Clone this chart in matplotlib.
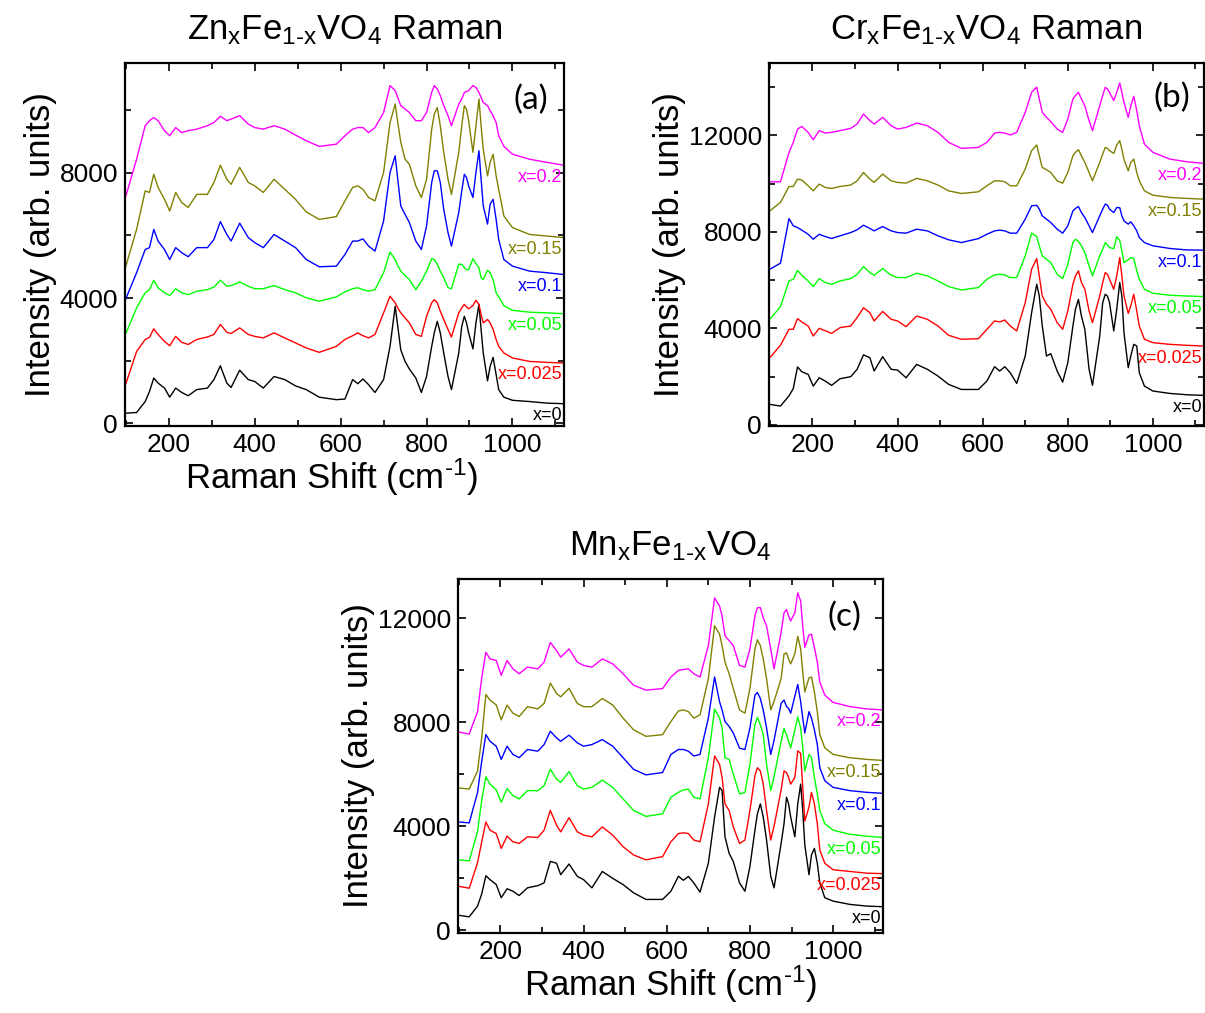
import matplotlib
matplotlib.use("Agg")
import matplotlib.pyplot as plt
from matplotlib.ticker import MultipleLocator

plt.rcParams['font.family'] = ['Liberation Sans', 'DejaVu Sans']
plt.rcParams['mathtext.fontset'] = 'custom'
plt.rcParams['mathtext.rm'] = 'Liberation Sans'
plt.rcParams['mathtext.it'] = 'Liberation Sans'
plt.rcParams['mathtext.default'] = 'regular'

shift = [100, 125, 145, 155, 165, 175, 190, 202, 216, 230, 245, 265, 290, 305, 320,
         335, 345, 365, 385, 400, 420, 445, 470, 495, 520, 550, 590, 610, 628, 640,
         652, 665, 680,
         700, 715, 727, 733, 740, 750, 760, 775, 788, 800, 812, 818, 825, 832, 840,
         850, 858, 875, 882, 888, 893, 898, 908, 915, 922, 927, 932, 942, 948, 955,
         962, 968, 980, 1000, 1040, 1080, 1120]

compositions = ["x=0", "x=0.025", "x=0.05", "x=0.1", "x=0.15", "x=0.2"]
line_colors = ["#000000", "#ff0000", "#00ff00", "#0000ff", "#808000", "#ff00ff"]

# (a) ZnxFe1-xVO4
zn_x0 = [330, 350, 700, 1020, 1450, 1290, 1130, 840, 1130, 990, 885, 1080, 1130, 1400, 1840,
         1290, 1150, 1700, 1400, 1340, 1130, 1500, 1400, 1200, 1080, 840, 760, 780, 1400, 1270,
         1420, 1240, 990,
         1400, 2460, 3740, 3100, 2350, 1980, 1740, 1450, 990, 1500, 2460, 2890, 3260, 2890, 2250,
         1500, 1080, 2250, 3100, 3420, 3210, 2890, 2380, 3210, 3800, 3000, 2250, 1360, 1820, 2110,
         1560, 1080, 840, 740, 700, 650, 630]
zn_x025 = [1270, 2300, 2680, 2750, 3020, 2840, 2620, 2480, 2780, 2590, 2520, 2680, 2760, 2840, 3160,
           2910, 2870, 3050, 2840, 2780, 2730, 2890, 2730, 2570, 2410, 2270, 2460, 2680, 2800, 2890,
           2800, 2730, 2840,
           3530, 4060, 3850, 3690, 3530, 3370, 3210, 2840, 2780, 3420, 3850, 3950, 3850, 3580, 3320,
           3000, 2760, 3530, 3690, 3800, 3720, 3660, 3760, 3930, 3800, 3475, 3210, 3320, 3210, 3000,
           2680, 2460, 2250, 2090, 1980, 1950, 1930]
zn_x05 = [2870, 3690, 4170, 4270, 4570, 4330, 4170, 4080, 4300, 4170, 4110, 4220, 4270, 4350, 4570,
          4380, 4400, 4510, 4380, 4300, 4300, 4400, 4270, 4170, 4010, 3900, 4040, 4200, 4300, 4330,
          4270, 4220, 4270,
          4810, 5470, 5230, 5040, 4860, 4720, 4590, 4270, 4540, 4860, 5260, 5230, 5080, 4860, 4650,
          4330, 4300, 5080, 5080, 4970, 4910, 4910, 5260, 5100, 4970, 4650, 4590, 4890, 4810, 4590,
          4170, 4040, 3760, 3610, 3550, 3530, 3500]
zn_x1 = [3980, 4810, 5550, 5610, 6190, 5820, 5550, 5230, 5610, 5450, 5320, 5610, 5610, 5870, 6440,
         6030, 5820, 6390, 5930, 5770, 5610, 6030, 5820, 5610, 5230, 5000, 5020, 5390, 5820, 5820,
         5890, 5660, 5500,
         6460, 8010, 8540, 7790, 6940, 6670, 6410, 5820, 5550, 6300, 7690, 8060, 8060, 7690, 6830,
         6090, 5660, 6730, 7420, 7950, 7850, 7580, 7210, 8010, 8700, 7790, 6940, 6360, 7000, 7150,
         6510, 5870, 5230, 5020, 4860, 4810, 4750]
zn_x15 = [5020, 6190, 7420, 7370, 7950, 7530, 7150, 6780, 7370, 7050, 6890, 7310, 7310, 7690, 8240,
          7790, 7630, 8170, 7690, 7580, 7370, 7790, 7470, 7150, 6750, 6510, 6600, 7100, 7530, 7580,
          7470, 7210, 7100,
          8010, 9600, 10190, 9600, 8970, 8430, 8270, 7580, 7210, 7790, 9390, 9870, 10080, 9500, 8650,
          7790, 7310, 8650, 9500, 10140, 10030, 9660, 8650, 9500, 10350, 9500, 8750, 7900, 8330, 8590,
          7900, 7470, 6620, 6250, 6030, 5980, 5930]
zn_x2 = [7260, 8430, 9500, 9660, 9760, 9660, 9340, 9180, 9440, 9280, 9340, 9390, 9500, 9600, 9800,
         9660, 9710, 9820, 9550, 9440, 9390, 9500, 9390, 9200, 9020, 8840, 8910, 9180, 9390, 9440,
         9440, 9280, 9440,
         9920, 10780, 10620, 10400, 10140, 10030, 9920, 9660, 9660, 9920, 10560, 10780, 10670, 10460, 10140,
         9820, 9500, 10190, 10350, 10560, 10590, 10620, 10780, 10720, 10560, 10400, 10240, 10140, 9980, 9820,
         9600, 9180, 8840, 8590, 8430, 8330, 8240]

# (b) CrxFe1-xVO4
cr_x0 = [845, 775, 1200, 1500, 2400, 2200, 2090, 1605, 1950, 1815, 1635, 1910, 1995, 2300, 2900,
         2780, 2230, 2825, 2300, 2270, 1950, 2505, 2300, 2020, 1675, 1465, 1465, 1815, 2410, 2230,
         2410, 2150, 1715,
         2850, 4650, 5830, 5340, 4100, 2850, 2950, 2230, 1770, 2575, 4095, 4790, 5200, 4510, 3960,
         2300, 1635, 3680, 5065, 5410, 5340, 5065, 3890, 4790, 5900, 5340, 3820, 2365, 2850, 3335,
         3265, 2160, 1605, 1400, 1300, 1245, 1220]
cr_x025 = [2780, 3300, 3960, 3960, 4400, 4265, 4095, 3680, 4000, 3900, 3790, 4030, 4095, 4445, 4850,
           4650, 4305, 4700, 4375, 4305, 4070, 4510, 4375, 4095, 3710, 3545, 3570, 3960, 4305, 4265,
           4345, 4095, 3890,
           5065, 6450, 6890, 6170, 5340, 5000, 4790, 4235, 3960, 4720, 5825, 6170, 6380, 5900, 5620,
           4720, 4235, 5340, 5900, 6310, 6240, 6035, 5620, 6170, 6935, 6170, 5340, 4620, 4930, 5410,
           4720, 4095, 3545, 3405, 3335, 3295, 3265]
cr_x05 = [4375, 4900, 5965, 6035, 6400, 6200, 5965, 5730, 6060, 5895, 5825, 5965, 6060, 6240, 6560,
          6310, 6200, 6475, 6200, 6105, 6105, 6285, 6175, 5965, 5730, 5590, 5690, 6035, 6215, 6240,
          6215, 6105, 6105,
          7005, 7950, 7800, 7420, 7005, 6865, 6725, 6240, 6060, 6655, 7555, 7695, 7600, 7420, 7140,
          6590, 6175, 7005, 7280, 7555, 7450, 7350, 7300, 7800, 7650, 7210, 6725, 6850, 6930, 6900,
          6380, 6035, 5620, 5455, 5370, 5340, 5315]
cr_x1 = [6450, 6700, 8550, 8250, 8180, 8070, 7900, 7695, 7900, 7805, 7725, 7835, 7970, 8085, 8275,
         8140, 8040, 8220, 8040, 7970, 7945, 8110, 8040, 7835, 7670, 7555, 7720, 7900, 8040, 8070,
         8040, 7945, 7945,
         8525, 9080, 9100, 8940, 8665, 8525, 8385, 8110, 7945, 8250, 8870, 8970, 9050, 8800, 8595,
         8250, 7970, 8665, 8940, 9150, 9110, 8940, 8800, 9010, 9000, 8665, 8455, 8320, 8415, 8250,
         8040, 7765, 7555, 7420, 7310, 7250, 7240]
cr_x15 = [8870, 9220, 9880, 9880, 10185, 10150, 9910, 9700, 9980, 9840, 9800, 9880, 9940, 10115, 10460,
          10185, 10050, 10395, 10115, 10050, 10020, 10215, 10115, 9940, 9700, 9590, 9660, 9910, 10115, 10115,
          10075, 9910, 9910,
          10600, 11365, 11600, 11155, 10670, 10575, 10460, 10115, 10020, 10460, 11155, 11295, 11405, 11155, 10880,
          10460, 10115, 10880, 11225, 11500, 11460, 11365, 11250, 11600, 11780, 11430, 11000, 10530, 10880, 11015,
          10460, 10115, 9700, 9520, 9425, 9385, 9355]
cr_x2 = [10075, 10075, 11295, 11710, 12260, 12370, 12125, 11820, 12195, 12095, 12125, 12195, 12290, 12470, 12885,
         12610, 12470, 12745, 12400, 12260, 12330, 12510, 12400, 12125, 11710, 11460, 11500, 11710, 12095, 12125,
         12095, 12015, 12125,
         12955, 13785, 14000, 13510, 12955, 12745, 12570, 12260, 12125, 12680, 13510, 13650, 13785, 13510, 13230,
         12610, 12195, 13230, 13650, 13990, 13920, 13785, 13440, 13785, 14170, 13785, 13370, 12745, 13230, 13620,
         13020, 12400, 11640, 11295, 11015, 10905, 10840]

# (c) MnxFe1-xVO4
mn_x0 = [580, 520, 935, 1400, 2100, 1950, 1760, 1255, 1600, 1505, 1340, 1635, 1720, 1825, 2650,
         2580, 2140, 2550, 2075, 1950, 1635, 2265, 2000, 1760, 1445, 1190, 1190, 1505, 2080, 1925,
         2075, 1825, 1470,
         2580, 4355, 5500, 5370, 3595, 2960, 2645, 1825, 1505, 2455, 3850, 4480, 4860, 4355, 3470,
         2080, 1635, 3340, 4100, 5115, 4860, 4355, 3595, 4860, 5620, 4610, 3280, 2140, 2900, 3150,
         2580, 1825, 1255, 1125, 1000, 935, 910]
mn_x025 = [1695, 1620, 2600, 3400, 4165, 3850, 3720, 3150, 3620, 3405, 3340, 3595, 3570, 3850, 4610,
           4040, 3785, 4330, 3785, 3660, 3595, 3975, 3660, 3215, 2900, 2710, 2835, 3405, 3720, 3750,
           3720, 3470, 3405,
           4860, 6700, 6380, 5875, 4860, 4610, 3975, 3340, 3470, 4610, 5940, 6250, 6125, 5620, 4610,
           3470, 4000, 5400, 6125, 6060, 5875, 5620, 5875, 6900, 6800, 5490, 4200, 4735, 5300, 4860,
           4100, 3090, 2580, 2330, 2265, 2200, 2180]
mn_x05 = [2710, 2670, 3800, 5000, 5900, 5620, 5395, 4925, 5450, 5180, 5050, 5370, 5370, 5560, 6190,
          5810, 5685, 6100, 5560, 5430, 5495, 5775, 5495, 5050, 4610, 4380, 4480, 5115, 5305, 5400,
          5430, 5115, 5050,
          6635, 8500, 8155, 7775, 6635, 6570, 6000, 5240, 5300, 6380, 7900, 8180, 7900, 7520, 6380,
          5370, 5900, 7265, 7750, 7520, 7265, 7015, 7700, 8200, 7775, 7015, 6125, 6760, 6635, 5875,
          5240, 4610, 4100, 3850, 3695, 3620, 3570]
mn_x1 = [4165, 4130, 5300, 6500, 7520, 7265, 7075, 6570, 7075, 6760, 6635, 6950, 6885, 7140, 7650,
         7395, 7265, 7500, 7205, 7075, 7140, 7330, 7075, 6635, 6190, 5975, 6065, 6760, 6950, 6950,
         6885, 6700, 6760,
         8155, 9735, 8785, 8470, 8025, 7835, 7585, 7000, 6950, 7775, 9040, 9140, 8910, 8470, 7775,
         6760, 7300, 8720, 8850, 8600, 8530, 8345, 9000, 9450, 8785, 8155, 7585, 8405, 8155, 7710,
         7140, 6255, 5750, 5495, 5370, 5305, 5265]
mn_x15 = [5470, 5430, 6125, 7400, 9065, 8850, 8660, 8090, 8660, 8345, 8215, 8595, 8510, 8720, 9500,
          9100, 8975, 9300, 8720, 8595, 8595, 8910, 8660, 8155, 7710, 7455, 7520, 8025, 8430, 8470,
          8405, 8155, 8280,
          9670, 11700, 11380, 10940, 10305, 9860, 9290, 8470, 8345, 9290, 10810, 11165, 10940, 10430, 9670,
          8470, 8800, 9670, 10620, 10660, 10430, 10240, 10620, 11300, 10810, 9925, 9165, 9700, 9735, 9165,
          8405, 7520, 7015, 6760, 6635, 6570, 6530]
mn_x2 = [7620, 7545, 8405, 9700, 10685, 10430, 10370, 9800, 10370, 10050, 9860, 10115, 10050, 10305, 11065,
         10750, 10495, 10810, 10305, 10180, 10115, 10430, 10240, 9860, 9420, 9230, 9290, 9735, 9990, 10025,
         10050, 9860, 9735,
         10940, 12775, 12460, 12080, 11320, 11130, 10940, 10180, 10115, 10810, 12080, 12395, 12400, 12015, 11700,
         10810, 10050, 11445, 12200, 12330, 12080, 11890, 12200, 12965, 12650, 11700, 10875, 11350, 11380, 10875,
         10305, 9545, 9040, 8760, 8600, 8510, 8470]

W, H = 1205, 1013


def px_axes(left, top, right, bottom):
    return [left / W, 1 - bottom / H, (right - left) / W, (bottom - top) / H]


def draw_panel(ax, spectra, ylim, yticks, tag, tag_pos, title, xlabel_x=None):
    for spec, comp, col in zip(spectra, compositions, line_colors):
        ax.plot(shift, spec, color=col, lw=1.0)
        ax.annotate(comp, xy=(1, spec[-1]), xycoords=('axes fraction', 'data'),
                    xytext=(-2, -12), textcoords='offset pixels',
                    ha='right', va='center', color=col, fontsize=13)
    ax.set_xlim(98, 1120)
    ax.set_ylim(*ylim)
    ax.set_yticks(yticks)
    ax.xaxis.set_major_locator(MultipleLocator(200))
    ax.xaxis.set_minor_locator(MultipleLocator(100))
    ax.yaxis.set_minor_locator(MultipleLocator(2000))
    ax.tick_params(which='both', direction='in', top=True, right=True, labelsize=19, width=1.2)
    ax.tick_params(which='major', length=6, pad=5)
    ax.tick_params(which='minor', length=4)
    for sp in ax.spines.values():
        sp.set_linewidth(1.6)
    ax.set_ylabel('Intensity (arb. units)', fontsize=25, labelpad=2)
    if xlabel_x is not None:
        ax.set_xlabel('Raman Shift (cm$^{\u20101}$)', fontsize=25, labelpad=0)
        ax.xaxis.label.set_x(xlabel_x)
    ax.set_title(title, fontsize=25, pad=17)
    ax.text(tag_pos[0], tag_pos[1], tag, transform=ax.transAxes, fontsize=24,
            family=['Lato', 'DejaVu Sans'], ha='center', va='center')


fig = plt.figure(figsize=(W / 100, H / 100), dpi=100)

ax_a = fig.add_axes(px_axes(125, 63, 564, 426))
draw_panel(ax_a, [zn_x0, zn_x025, zn_x05, zn_x1, zn_x15, zn_x2], (-80, 11500),
           [0, 4000, 8000], '(a)', (0.925, 0.898),
           'Zn$_x$Fe$_{1\u2010x}$VO$_4$ Raman', xlabel_x=0.47)

ax_b = fig.add_axes(px_axes(769, 63, 1204, 426))
draw_panel(ax_b, [cr_x0, cr_x025, cr_x05, cr_x1, cr_x15, cr_x2], (-50, 15000),
           [0, 4000, 8000, 12000], '(b)', (0.926, 0.904),
           'Cr$_x$Fe$_{1\u2010x}$VO$_4$ Raman')

ax_c = fig.add_axes(px_axes(458, 579, 883, 933))
draw_panel(ax_c, [mn_x0, mn_x025, mn_x05, mn_x1, mn_x15, mn_x2], (-100, 13500),
           [0, 4000, 8000, 12000], '(c)', (0.91, 0.893),
           'Mn$_x$Fe$_{1\u2010x}$VO$_4$', xlabel_x=0.5)

fig.savefig('out.png', dpi=100)
